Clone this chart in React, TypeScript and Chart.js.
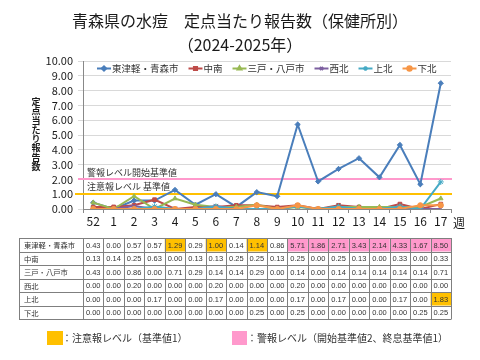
import React, { useEffect, useRef } from "react";
import { Chart, registerables } from "chart.js";
import { drawPoint } from "chart.js/helpers";

Chart.register(...registerables);

const JP = '"Noto Sans CJK JP", "Noto Sans", sans-serif';
const NUM = '"Liberation Sans", Arial, sans-serif';

const titleLine1 = "青森県の水痘　定点当たり報告数（保健所別）";
const titleLine2 = "（2024-2025年）";
const yTitle = "定点当たり報告数";
const weekUnit = "週";

const weeks = ["52", "1", "2", "3", "4", "5", "6", "7", "8", "9", "10", "11", "12", "13", "14", "15", "16", "17"];

const seriesNames = ["東津軽・青森市", "中南", "三戸・八戸市", "西北", "上北", "下北"];
const higashiTsugaruAomori = [0.43, 0.0, 0.57, 0.57, 1.29, 0.29, 1.0, 0.14, 1.14, 0.86, 5.71, 1.86, 2.71, 3.43, 2.14, 4.33, 1.67, 8.5];
const chunan = [0.13, 0.14, 0.25, 0.63, 0.0, 0.13, 0.13, 0.25, 0.25, 0.13, 0.25, 0.0, 0.25, 0.13, 0.0, 0.33, 0.0, 0.33];
const sannoheHachinohe = [0.43, 0.0, 0.86, 0.0, 0.71, 0.29, 0.14, 0.14, 0.29, 0.0, 0.14, 0.0, 0.14, 0.14, 0.14, 0.14, 0.14, 0.71];
const seihoku = [0.0, 0.0, 0.2, 0.0, 0.0, 0.0, 0.2, 0.0, 0.0, 0.0, 0.2, 0.0, 0.0, 0.0, 0.0, 0.0, 0.0, 0.0];
const kamikita = [0.0, 0.0, 0.0, 0.17, 0.0, 0.0, 0.17, 0.0, 0.0, 0.0, 0.17, 0.0, 0.17, 0.0, 0.0, 0.17, 0.0, 1.83];
const shimokita = [0.0, 0.0, 0.0, 0.0, 0.0, 0.0, 0.0, 0.0, 0.25, 0.0, 0.25, 0.0, 0.0, 0.0, 0.0, 0.0, 0.25, 0.25];
const seriesValues = [higashiTsugaruAomori, chunan, sannoheHachinohe, seihoku, kamikita, shimokita];

const seriesColors = ["#4A7EBB", "#BE4B48", "#98B954", "#7D60A0", "#46AAC5", "#F79646"];
const seriesPoints = ["rectRot", "rect", "triangle", "crossRot", "star", "circle"];

const alarmStartLevel = 2;
const alarmEndLevel = 1;
const cautionLevel = 1;
const alarmLabel = "警報レベル開始基準値";
const cautionLabel = "注意報レベル 基準値";
const alarmColor = "#FF99CC";
const cautionColor = "#FFC000";
const cautionLegend = "：注意報レベル（基準値1）";
const alarmLegend = "：警報レベル（開始基準値2、終息基準値1）";

function levelsOf(values: number[]): (string | null)[] {
  let alarm = false;
  return values.map((v) => {
    if (!alarm && v >= alarmStartLevel) alarm = true;
    else if (alarm && v < alarmEndLevel) alarm = false;
    if (alarm) return "alarm";
    if (v >= cautionLevel) return "caution";
    return null;
  });
}

const decorPlugin = {
  id: "decor",
  beforeDraw(chart: any) {
    const ctx = chart.ctx;
    ctx.save();
    ctx.fillStyle = "#ffffff";
    ctx.fillRect(0, 0, chart.width, chart.height);
    ctx.restore();
  },
  beforeDatasetsDraw(chart: any) {
    const ctx = chart.ctx;
    const y = chart.scales.y;
    const a = chart.chartArea;
    ctx.save();
    ctx.lineWidth = 2;
    ctx.strokeStyle = alarmColor;
    ctx.beginPath();
    ctx.moveTo(a.left - 5, Math.round(y.getPixelForValue(alarmStartLevel)));
    ctx.lineTo(a.right + 1, Math.round(y.getPixelForValue(alarmStartLevel)));
    ctx.stroke();
    ctx.strokeStyle = cautionColor;
    ctx.beginPath();
    ctx.moveTo(a.left - 8, Math.round(y.getPixelForValue(cautionLevel)));
    ctx.lineTo(a.right + 1, Math.round(y.getPixelForValue(cautionLevel)));
    ctx.stroke();
    ctx.restore();
  },
  afterDraw(chart: any) {
    const ctx = chart.ctx;
    const a = chart.chartArea;
    const xs = chart.scales.x;
    const ys = chart.scales.y;
    ctx.save();
    ctx.fillStyle = "#1a1a1a";
    ctx.textBaseline = "middle";

    // Title
    ctx.textAlign = "center";
    ctx.font = `16px ${JP}`;
    ctx.fillText(titleLine1, 240, 21);
    ctx.fillText(titleLine2, 240, 45);

    // Y title (vertical stacked)
    ctx.font = `bold 9px ${JP}`;
    const chars = Array.from(yTitle);
    chars.forEach((c, i) => ctx.fillText(c, 36, 101.5 + i * 9.3));

    // Reference labels
    ctx.textAlign = "left";
    ctx.fillStyle = "#333";
    ctx.font = `9px ${JP}`;
    ctx.fillText(alarmLabel, 87, ys.getPixelForValue(alarmStartLevel) - 7);
    ctx.fillText(cautionLabel, 87, ys.getPixelForValue(cautionLevel) - 8);

    // Week unit
    ctx.fillStyle = "#1a1a1a";
    ctx.font = `12px ${JP}`;
    ctx.fillText(weekUnit, a.right + 2, 223);

    // Legend
    ctx.font = `9.5px ${JP}`;
    let lx = 97;
    const ly = 68.5;
    chart.data.datasets.forEach((ds: any) => {
      ctx.strokeStyle = ds.borderColor;
      ctx.lineWidth = 2;
      ctx.beginPath();
      ctx.moveTo(lx, ly);
      ctx.lineTo(lx + 14, ly);
      ctx.stroke();
      ctx.fillStyle = ds.borderColor;
      drawPoint(ctx, { pointStyle: ds.pointStyle, radius: 2.2, rotation: 0, borderWidth: 1 }, lx + 7, ly);
      ctx.fillStyle = "#333";
      ctx.fillText(ds.label, lx + 15, ly);
      lx += 15 + ctx.measureText(ds.label).width + 10;
    });

    // Table
    const n = weeks.length;
    const colW = (a.right - a.left) / n;
    const tTop = 238;
    const rowH = 13.5;
    const tLeft = 19;
    const tRight = a.right;
    seriesValues.forEach((vals, r) => {
      const lv = levelsOf(vals);
      vals.forEach((v, i) => {
        const cx = xs.getPixelForValue(i);
        const y0 = tTop + r * rowH;
        if (lv[i]) {
          ctx.fillStyle = lv[i] === "alarm" ? alarmColor : cautionColor;
          ctx.fillRect(cx - colW / 2, y0, colW, rowH);
        }
      });
    });
    ctx.strokeStyle = "#7f7f7f";
    ctx.lineWidth = 1;
    ctx.beginPath();
    for (let r = 0; r <= seriesValues.length; r++) {
      const y = Math.round(tTop + r * rowH) + 0.5;
      ctx.moveTo(tLeft, y);
      ctx.lineTo(tRight, y);
    }
    const tBottom = Math.round(tTop + seriesValues.length * rowH) + 0.5;
    ctx.moveTo(tLeft + 0.5, tTop);
    ctx.lineTo(tLeft + 0.5, tBottom);
    for (let i = 0; i <= n; i++) {
      const x = Math.round(a.left + i * colW) + 0.5;
      ctx.moveTo(x, tTop);
      ctx.lineTo(x, tBottom);
    }
    ctx.stroke();

    seriesValues.forEach((vals, r) => {
      const yc = tTop + r * rowH + rowH / 2 + 0.5;
      ctx.fillStyle = "#333";
      ctx.textAlign = "left";
      ctx.font = `7.3px ${JP}`;
      ctx.fillText(seriesNames[r], tLeft + 5, yc);
      ctx.textAlign = "center";
      ctx.font = `7.5px ${NUM}`;
      vals.forEach((v, i) => {
        ctx.fillText(v.toFixed(2), xs.getPixelForValue(i), yc + 0.5);
      });
    });

    // Bottom legend
    ctx.textAlign = "left";
    ctx.font = `10px ${JP}`;
    ctx.fillStyle = cautionColor;
    ctx.fillRect(47, 331, 16, 14);
    ctx.fillStyle = "#333";
    ctx.fillText(cautionLegend, 62, 338);
    ctx.fillStyle = alarmColor;
    ctx.fillRect(232, 331, 15, 14);
    ctx.fillStyle = "#333";
    ctx.fillText(alarmLegend, 247, 338);

    ctx.restore();
  },
};

export default function App() {
  const canvasRef = useRef<HTMLCanvasElement | null>(null);

  useEffect(() => {
    const canvas = canvasRef.current;
    if (!canvas) return;
    const chart = new Chart(canvas, {
      type: "line",
      data: {
        labels: weeks,
        datasets: seriesNames.map((name, i) => ({
          label: name,
          data: seriesValues[i],
          borderColor: seriesColors[i],
          backgroundColor: seriesColors[i],
          pointStyle: seriesPoints[i] as any,
          pointRadius: i === 3 || i === 4 ? 3 : 2.6,
          pointBorderWidth: 1,
          borderWidth: 2,
          tension: 0,
          order: seriesNames.length - i,
        })),
      },
      options: {
        responsive: false,
        animation: false,
        devicePixelRatio: 1,
        layout: { padding: { left: 0, top: 61, right: 29, bottom: 131 } },
        plugins: {
          legend: { display: false },
          title: { display: false },
          tooltip: { enabled: false },
        },
        scales: {
          x: {
            type: "category",
            offset: true,
            grid: { drawOnChartArea: false, drawTicks: true, tickLength: 4, offset: true, color: "#888" },
            border: { color: "#888" },
            ticks: {
              font: { family: JP, size: 12 },
              color: "#1a1a1a",
              padding: 1,
              maxRotation: 0,
              autoSkip: false,
            },
            afterFit: (s: any) => {
              s.height = 20;
            },
          },
          y: {
            min: 0,
            max: 10,
            ticks: {
              stepSize: 1,
              autoSkip: false,
              callback: (v: any) => Number(v).toFixed(2),
              font: { family: JP, size: 11 },
              color: "#1a1a1a",
              padding: 5,
            },
            grid: { color: "#d9d9d9", tickLength: 5 },
            border: { color: "#888" },
            afterFit: (s: any) => {
              s.width = 83;
            },
          },
        },
      },
      plugins: [decorPlugin],
    });
    return () => chart.destroy();
  }, []);

  return (
    <canvas
      ref={canvasRef}
      width={480}
      height={360}
      style={{ position: "absolute", left: 0, top: 0, width: 480, height: 360 }}
    />
  );
}
